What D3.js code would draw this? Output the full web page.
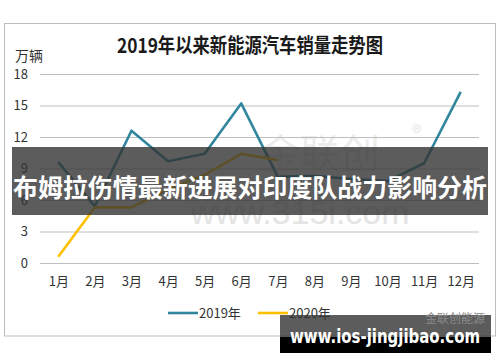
<!DOCTYPE html>
<html>
<head>
<meta charset="utf-8">
<script src="https://cdn.jsdelivr.net/npm/d3@7"></script>
<style>
  body { margin: 0; background: #fff; }
  svg { display: block; font-family: "Noto Sans CJK SC", "DejaVu Sans", sans-serif; }
</style>
</head>
<body>
<script>
// chart data (万辆)
var months = ["1月", "2月", "3月", "4月", "5月", "6月", "7月", "8月", "9月", "10月", "11月", "12月"];
var sales2019 = [9.6, 5.4, 12.6, 9.7, 10.4, 15.2, 8.2, 8.3, 8.0, 7.8, 9.5, 16.3];
var sales2020 = [0.6, 5.3, 5.3, 7.0, 8.4, 10.4, 9.8];
var yTicks = [0, 3, 6, 9, 12, 15, 18];
var seriesNames = ["2019年", "2020年"];
var seriesColors = ["#31859C", "#FFC000"];

var svgWidth = 500;
var svgHeight = 362;

var svg = d3.select("body")
    .append("svg")
    .attr("width", svgWidth)
    .attr("height", svgHeight);

// outer chart frame
svg.append("rect")
    .attr("x", 4.5).attr("y", 23.5)
    .attr("width", 491).attr("height", 312.5)
    .attr("fill", "#fff")
    .attr("stroke", "#bdbdbd");

// title
svg.append("text")
    .attr("x", 117).attr("y", 53)
    .attr("textLength", 266)
    .attr("lengthAdjust", "spacingAndGlyphs")
    .attr("font-size", 20)
    .attr("font-weight", "bold")
    .attr("fill", "#1a1a1a")
    .text("2019年以来新能源汽车销量走势图");

// unit label
svg.append("text")
    .attr("x", 15).attr("y", 61)
    .attr("font-size", 14)
    .attr("fill", "#333")
    .text("万辆");

var x = d3.scalePoint()
    .domain(months)
    .range([40, 479])
    .padding(0.5);

var y = d3.scaleLinear()
    .domain([0, 18])
    .range([263, 74]);

// faint watermark
svg.append("text")
    .attr("x", 300).attr("y", 224)
    .attr("text-anchor", "middle")
    .attr("font-size", 34)
    .attr("font-family", "Liberation Sans, sans-serif")
    .attr("fill", "#e4e4e4")
    .text("www.315i.com");
svg.append("text")
    .attr("x", 320).attr("y", 168)
    .attr("text-anchor", "middle")
    .attr("font-size", 40)
    .attr("fill", "#ececec")
    .text("金联创");
svg.append("text")
    .attr("x", 412).attr("y", 140)
    .attr("font-size", 20)
    .attr("fill", "#e6e6e6")
    .text("®");

// y axis with gridlines
var yAxis = d3.axisLeft(y)
    .tickValues(yTicks)
    .tickSize(-(479 - 40))
    .tickPadding(12);

var yGroup = svg.append("g")
    .attr("transform", "translate(40,0)")
    .call(yAxis);
yGroup.select(".domain").remove();
yGroup.selectAll("line").attr("stroke", "#bfbfbf");
yGroup.selectAll("text")
    .attr("font-size", 13)
    .attr("fill", "#333")
    .attr("font-family", "Noto Sans CJK SC, sans-serif");

// x axis labels
var xAxis = d3.axisBottom(x).tickSize(0).tickPadding(14);
var xGroup = svg.append("g")
    .attr("transform", "translate(0,263)")
    .call(xAxis);
xGroup.select(".domain").remove();
xGroup.selectAll("text")
    .attr("font-size", 13)
    .attr("fill", "#333")
    .attr("font-family", "Noto Sans CJK SC, sans-serif");

// lines
var line = d3.line()
    .x(function (d, i) { return x(months[i]); })
    .y(function (d) { return y(d); });

[sales2019, sales2020].forEach(function (s, k) {
    svg.append("path")
        .datum(s)
        .attr("fill", "none")
        .attr("stroke", seriesColors[k])
        .attr("stroke-width", 2.6)
        .attr("stroke-linejoin", "round")
        .attr("d", line);
});

// legend
var legendX = [168, 258];
seriesNames.forEach(function (name, k) {
    svg.append("line")
        .attr("x1", legendX[k]).attr("x2", legendX[k] + 30)
        .attr("y1", 313).attr("y2", 313)
        .attr("stroke", seriesColors[k])
        .attr("stroke-width", 2.6);
    svg.append("text")
        .attr("x", legendX[k] + 31).attr("y", 318)
        .attr("font-size", 13)
        .attr("fill", "#333")
        .text(name);
});

// headline banner over the chart
svg.append("rect")
    .attr("x", 12).attr("y", 147)
    .attr("width", 476).attr("height", 68)
    .attr("fill", "#333")
    .attr("opacity", 0.8);
svg.append("text")
    .attr("x", 13).attr("y", 197)
    .attr("textLength", 474)
    .attr("lengthAdjust", "spacingAndGlyphs")
    .attr("font-size", 25)
    .attr("font-weight", "bold")
    .attr("fill", "#fff")
    .text("布姆拉伤情最新进展对印度队战力影响分析");

// site watermark bottom right
svg.append("rect")
    .attr("x", 280).attr("y", 315)
    .attr("width", 211).attr("height", 22)
    .attr("fill", "#333")
    .attr("opacity", 0.8);
svg.append("rect")
    .attr("x", 280).attr("y", 337)
    .attr("width", 211).attr("height", 16)
    .attr("fill", "#000");
svg.append("text")
    .attr("x", 425).attr("y", 323)
    .attr("font-size", 12)
    .attr("fill", "#8a8a8a")
    .text("金联创能源");
svg.append("text")
    .attr("x", 290).attr("y", 343)
    .attr("textLength", 190)
    .attr("lengthAdjust", "spacingAndGlyphs")
    .attr("font-size", 20)
    .attr("font-weight", "bold")
    .attr("font-family", "DejaVu Sans, sans-serif")
    .attr("fill", "#fff")
    .text("www.ios-jingjibao.com");
</script>
</body>
</html>
